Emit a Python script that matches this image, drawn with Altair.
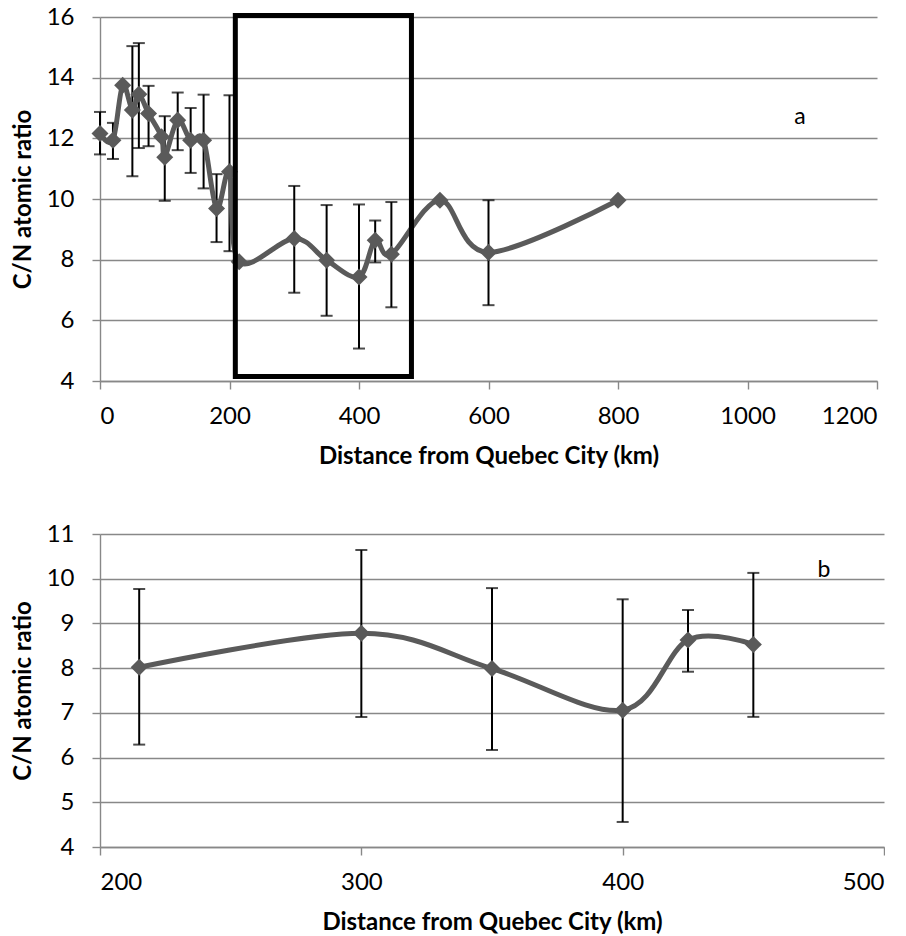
import altair as alt
import pandas as pd

# ---- panel a: whole transect ----
dist_a = [0, 20, 35, 50, 60, 75, 95, 100, 120, 140, 160, 180, 200, 215,
          300, 350, 400, 425, 450, 525, 600, 800]
cn_a = [12.16, 11.94, 13.75, 12.93, 13.45, 12.82, 12.05, 11.38, 12.6, 11.94,
        11.94, 9.69, 10.9, 7.93, 8.70, 7.98, 7.43, 8.64, 8.18, 9.96, 8.24, 9.96]

# error bars drawn in panel a (distance, low, high)
err_dist_a = [0, 20, 50, 60, 75, 100, 120, 140, 160, 180, 200,
              300, 350, 400, 425, 450, 600]
err_lo_a = [11.47, 11.32, 10.75, 11.68, 11.74, 9.94, 11.61, 10.86, 10.35, 8.58, 8.28,
            6.91, 6.15, 5.07, 7.91, 6.43, 6.50]
err_hi_a = [12.87, 12.51, 15.04, 15.14, 13.73, 12.73, 13.51, 13.00, 13.44, 10.82, 13.42,
            10.43, 9.80, 9.82, 9.29, 9.90, 9.96]

# highlighted stretch (framed box)
box_x = [209, 481]
box_y = [4.15, 16.05]

# ---- panel b: close-up of the framed stretch ----
dist_b = [215, 300, 350, 400, 425, 450]
cn_b = [8.02, 8.78, 7.99, 7.06, 8.63, 8.53]
err_lo_b = [6.29, 6.91, 6.17, 4.56, 7.92, 6.91]
err_hi_b = [9.77, 10.64, 9.79, 9.54, 9.30, 10.13]

FONT = "Lato"
SERIES = "#5a5a5a"
GRID = "#888888"
X_TITLE = "Distance from Quebec City (km)"
Y_TITLE = "C/N atomic ratio"


def enc_x(field, dom, ticks):
    return alt.X(f"{field}:Q",
                 scale=alt.Scale(domain=dom, nice=False, zero=False),
                 axis=alt.Axis(values=ticks, grid=False, format="d", title=X_TITLE))


def enc_y(field, dom, ticks):
    return alt.Y(f"{field}:Q",
                 scale=alt.Scale(domain=dom, nice=False, zero=False),
                 axis=alt.Axis(values=ticks, grid=True, format="d", title=Y_TITLE))


def panel(dist, cn, edist, elo, ehi, xdom, xticks, ydom, yticks, w, h, tag, tag_x, tag_y):
    pts = pd.DataFrame({"dist": dist, "cn": cn})
    err = pd.DataFrame({"dist": edist, "lo": elo, "hi": ehi})
    lab = pd.DataFrame({"dist": [tag_x], "cn": [tag_y], "t": [tag]})

    bars = alt.Chart(err).mark_errorbar(
        ticks=True, size=12, thickness=2, color="black"
    ).encode(x=enc_x("dist", xdom, xticks), y=enc_y("lo", ydom, yticks), y2="hi:Q")

    line = alt.Chart(pts).mark_line(
        interpolate="cardinal", strokeWidth=5, color=SERIES
    ).encode(x=enc_x("dist", xdom, xticks), y=enc_y("cn", ydom, yticks))

    marks = alt.Chart(pts).mark_point(
        shape="diamond", filled=True, size=290, color=SERIES, opacity=1
    ).encode(x=enc_x("dist", xdom, xticks), y=enc_y("cn", ydom, yticks))

    text = alt.Chart(lab).mark_text(
        font=FONT, fontSize=23, color="black", align="center", baseline="middle"
    ).encode(x=enc_x("dist", xdom, xticks), y=enc_y("cn", ydom, yticks), text="t:N")

    return [bars, line, marks, text], w, h


layers_a, wa, ha = panel(dist_a, cn_a, err_dist_a, err_lo_a, err_hi_a,
                         [0, 1200], list(range(0, 1201, 200)), [4, 16], list(range(4, 17, 2)),
                         777, 364, "a", 1081, 12.7)

box = alt.Chart(pd.DataFrame({"x1": [box_x[0]], "x2": [box_x[1]],
                              "y1": [box_y[0]], "y2": [box_y[1]]})).mark_rect(
    fillOpacity=0, stroke="black", strokeWidth=5
).encode(x=enc_x("x1", [0, 1200], list(range(0, 1201, 200))), x2="x2:Q",
         y=enc_y("y1", [4, 16], list(range(4, 17, 2))), y2="y2:Q")

top = alt.layer(*layers_a, box).properties(width=wa, height=ha)

layers_b, wb, hb = panel(dist_b, cn_b, dist_b, err_lo_b, err_hi_b,
                         [200, 500], list(range(200, 501, 100)), [4, 11], list(range(4, 12)),
                         784, 313, "b", 477, 10.19)
bottom = alt.layer(*layers_b).properties(width=wb, height=hb)

chart = alt.vconcat(top, bottom, spacing=54).properties(
    padding={"left": 11, "top": 5, "right": 0, "bottom": 0},
    background="white"
).configure_view(stroke=None).configure_axis(
    labelFont=FONT, labelFontSize=24, labelColor="black",
    titleFont=FONT, titleFontSize=24, titleFontWeight="bold", titleColor="black",
    gridColor=GRID, gridWidth=1.4, domainColor=GRID, domainWidth=1.4,
    tickColor=GRID, tickWidth=1.4, tickSize=8
).configure_axisX(
    labelPadding=15, titlePadding=16
).configure_axisY(
    labelPadding=18, titlePadding=11
)

chart.save("out.html", embed_options={"renderer": "svg", "actions": False})
